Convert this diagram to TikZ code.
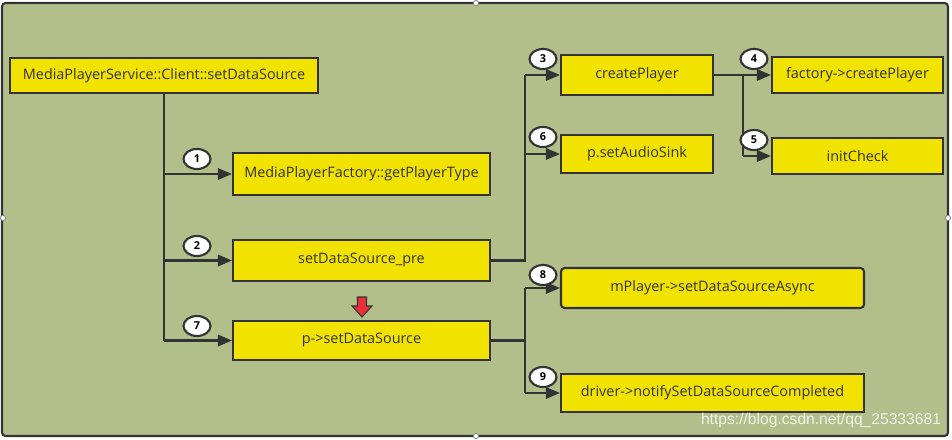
\documentclass[tikz,border=0pt]{standalone}
\usepackage{fontspec}
\setmainfont{Open Sans}
\newfontfamily\markfont{Liberation Sans}
\usetikzlibrary{arrows.meta,shapes.geometric}
\definecolor{bggreen}{HTML}{B2BF8B}
\definecolor{boxyellow}{HTML}{F2E200}
\definecolor{edge}{HTML}{333333}
\definecolor{redarrow}{HTML}{E8303A}

\begin{document}
\begin{tikzpicture}[x=0.02cm,y=-0.02cm,
  box/.style={draw=edge,line width=1.2pt,fill=boxyellow,text=edge,font=\fontsize{8.2}{10}\selectfont,inner sep=0pt},
  num/.style={ellipse,draw=edge,line width=1.2pt,fill=white,minimum width=0.54cm,minimum height=0.4cm,inner sep=0pt,font=\fontsize{6.2}{7}\selectfont\bfseries},
  link/.style={draw=edge,line width=1.2pt},
  tip/.style={-{Triangle[length=8pt,width=6.5pt]}}]
\useasboundingbox (0,0) rectangle (952,439);
\draw[draw=edge,fill=bggreen,line width=1.2pt,rounded corners=2pt] (2,3) rectangle (948,436);
\foreach \p in {(476,3),(3,218),(948,218),(476,436)}
  \draw[gray,fill=white] \p circle [radius=1.5pt];

\node[box,minimum width=6.16cm,minimum height=0.7cm] (client) at (164,75.5) {MediaPlayerService::Client::setDataSource};
\node[box,minimum width=5.14cm,minimum height=0.84cm] (getType) at (361.5,174) {MediaPlayerFactory::getPlayerType};
\node[box,minimum width=5.14cm,minimum height=0.82cm] (pre) at (361.5,260.5) {setDataSource\_pre};
\node[box,minimum width=5.14cm,minimum height=0.78cm] (setDS) at (361.5,340.5) {p->setDataSource};
\node[box,minimum width=3.04cm,minimum height=0.8cm] (create) at (637,75) {createPlayer};
\node[box,minimum width=3.04cm,minimum height=0.76cm] (sink) at (637,154) {p.setAudioSink};
\node[box,minimum width=3.42cm,minimum height=0.72cm] (factory) at (857.5,75) {factory->createPlayer};
\node[box,minimum width=3.42cm,minimum height=0.72cm] (init) at (857.5,156) {initCheck};
\node[box,rounded corners=2pt,minimum width=6.06cm,minimum height=0.8cm] (async) at (712.5,288) {mPlayer->setDataSourceAsync};
\node[box,minimum width=6.06cm,minimum height=0.76cm] (notify) at (712.5,393) {driver->notifySetDataSourceCompleted};

\coordinate (j1) at (525,0);
\coordinate (j2) at (525,0);
\coordinate (j3) at (743,0);

\draw[link] (client.south) -- (client.south |- setDS.west);
\draw[link,tip] (client.south |- getType.west) -- (getType.west);
\draw[link,tip] (client.south |- pre.west) -- (pre.west);
\draw[link,tip] (client.south |- setDS.west) -- (setDS.west);

\draw[link] (pre.east) -| (j1 |- create.west);
\draw[link,tip] (j1 |- create.west) -- (create.west);
\draw[link,tip] (j1 |- sink.west) -- (sink.west);

\draw[link] (create.east) -- (j3 |- create.east) -- (j3 |- init.west);
\draw[link,tip] (j3 |- factory.west) -- (factory.west);
\draw[link,tip] (j3 |- init.west) -- (init.west);

\draw[link] (setDS.east) -- (j2 |- setDS.east);
\draw[link] (j2 |- async.west) -- (j2 |- notify.west);
\draw[link,tip] (j2 |- async.west) -- (async.west);
\draw[link,tip] (j2 |- notify.west) -- (notify.west);

\node[num] (n1) at (197,159) {1};
\node[num] (n2) at (197,246) {2};
\node[num] (n7) at (197,326) {7};
\node[num] (n3) at (543,59) {3};
\node[num] (n6) at (543,137) {6};
\node[num] (n4) at (754,59) {4};
\node[num] (n5) at (754,140) {5};
\node[num] (n8) at (543,275) {8};
\node[num] (n9) at (543,377) {9};

\draw[draw=edge,fill=redarrow,line width=0.6pt] (357.5,297) -- (366.5,297) -- (366.5,306) -- (372,306) -- (362,317) -- (352,306) -- (357.5,306) -- cycle;

\node[text=white,opacity=0.8,font=\markfont\fontsize{8.9}{10}\selectfont] (mark) at (821,420) {https://blog.csdn.net/qq\_25333681};
\end{tikzpicture}
\end{document}
